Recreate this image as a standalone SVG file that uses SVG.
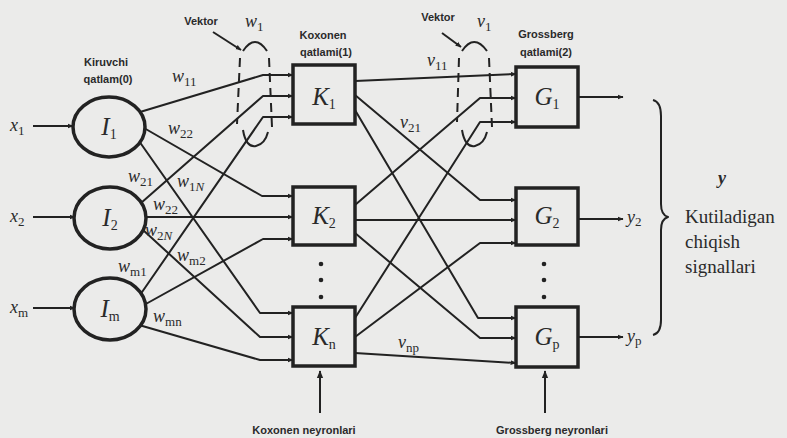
<svg xmlns="http://www.w3.org/2000/svg" width="787" height="438" viewBox="0 0 787 438">
<defs>
<marker id="ah" viewBox="0 0 10 10" refX="9" refY="5" markerWidth="6" markerHeight="6" orient="auto" markerUnits="userSpaceOnUse">
<path d="M0,1 L10,5 L0,9 z" fill="#222"/>
</marker>
<marker id="ahb" viewBox="0 0 10 10" refX="9" refY="5" markerWidth="8" markerHeight="8" orient="auto" markerUnits="userSpaceOnUse">
<path d="M0,1 L10,5 L0,9 z" fill="#222"/>
</marker>
</defs>
<style>
.bg{fill:#ebebea}
.c{fill:none;stroke:#222;stroke-width:2;stroke-linejoin:round}
.ca{fill:none;stroke:#222;stroke-width:2;stroke-linejoin:round;marker-end:url(#ah)}
.box{fill:#ebebea;stroke:#222;stroke-width:3.5}
.circ{fill:#ebebea;stroke:#222;stroke-width:3.5}
.dash{fill:none;stroke:#222;stroke-width:2;stroke-dasharray:9,6}
.arc{fill:none;stroke:#222;stroke-width:2}
.nm{font-family:"Liberation Serif",serif;font-style:italic;font-size:25px;fill:#2a2a2a;text-anchor:middle}
.nsub{font-size:14px;font-style:normal}
.lbl{font-family:"Liberation Serif",serif;font-style:italic;font-size:18px;fill:#2a2a2a}
.sub{font-size:13px;font-style:normal}
.sans{font-family:"Liberation Sans",sans-serif;font-weight:bold;font-size:11px;fill:#2a2a2a;text-anchor:middle}
.txt{font-family:"Liberation Serif",serif;font-size:19px;fill:#2a2a2a}
</style>
<rect class="bg" x="0" y="0" width="787" height="438"/>

<g id="connectors">
<path class="ca" d="M33,126 L73,126"/>
<path class="ca" d="M33,217 L75,217"/>
<path class="ca" d="M33,308 L75,308"/>
<path class="ca" d="M140,112 L263,75 L293,75"/>
<path class="ca" d="M141,203 L263,96 L293,96"/>
<path class="ca" d="M140,295 L263,117 L293,117"/>
<path class="ca" d="M144,128 L262,196 L293,196"/>
<path class="ca" d="M144,217 L293,217"/>
<path class="ca" d="M144,305 L263,239 L293,239"/>
<path class="ca" d="M139,141 L260,313 L293,313"/>
<path class="ca" d="M143,230 L260,337 L293,337"/>
<path class="ca" d="M139,325 L260,360 L293,360"/>
<path class="ca" d="M355,81 L516,74"/>
<path class="ca" d="M355,95 L480,200 L516,200"/>
<path class="ca" d="M355,110 L478,318 L516,318"/>
<path class="ca" d="M355,205 L480,98 L516,98"/>
<path class="ca" d="M355,220 L516,220"/>
<path class="ca" d="M355,233 L480,338 L516,338"/>
<path class="ca" d="M355,318 L480,122 L516,122"/>
<path class="ca" d="M355,337 L480,243 L516,243"/>
<path class="ca" d="M355,353 L516,363"/>
<path class="ca" d="M578,97 L623,97"/>
<path class="ca" d="M578,219 L623,219"/>
<path class="ca" d="M578,337 L623,337"/>
<path class="c" style="marker-end:url(#ahb)" d="M320,413 L320,371"/>
<path class="c" style="marker-end:url(#ahb)" d="M545,413 L545,371"/>
<path class="c" style="marker-end:url(#ah)" d="M213,32 L241,50"/>
<path class="c" style="marker-end:url(#ah)" d="M442,33 L461,47"/>
<path class="c" d="M653,100 Q661,102 661,116 L661,204 Q661,215 668,217 Q661,219 661,230 L661,320 Q661,333 653,335"/>
</g>

<g id="vector-w1">
<path class="arc" d="M243,51 Q255,33 267,51"/>
<path class="dash" d="M240,58 L237,124"/>
<path class="dash" d="M269,58 L272,127"/>
<path class="arc" d="M243,130 Q246,148 256,146 Q265,144 268,132"/>
</g>
<g id="vector-v1">
<path class="arc" d="M462,51 Q474,33 487,51"/>
<path class="dash" d="M459,58 L457,122"/>
<path class="dash" d="M489,58 L492,127"/>
<path class="arc" d="M462,130 Q465,148 475,146 Q484,144 487,132"/>
</g>

<g id="I1"><ellipse class="circ" cx="109" cy="127" rx="36" ry="30"/><text class="nm" x="109" y="135">I<tspan class="nsub" dy="4">1</tspan></text></g>
<g id="I2"><ellipse class="circ" cx="110" cy="218" rx="36" ry="31"/><text class="nm" x="110" y="226">I<tspan class="nsub" dy="4">2</tspan></text></g>
<g id="Im"><ellipse class="circ" cx="110" cy="309" rx="36" ry="31"/><text class="nm" x="110" y="317">I<tspan class="nsub" dy="4">m</tspan></text></g>

<g id="K1"><rect class="box" x="293" y="65" width="62" height="59"/><text class="nm" x="324" y="105">K<tspan class="nsub" dy="4">1</tspan></text></g>
<g id="K2"><rect class="box" x="293" y="187" width="62" height="58"/><text class="nm" x="324" y="224">K<tspan class="nsub" dy="4">2</tspan></text></g>
<g id="Kn"><rect class="box" x="293" y="307" width="62" height="59"/><text class="nm" x="324" y="345">K<tspan class="nsub" dy="4">n</tspan></text></g>

<g id="G1"><rect class="box" x="516" y="67" width="62" height="60"/><text class="nm" x="547" y="105">G<tspan class="nsub" dy="4">1</tspan></text></g>
<g id="G2"><rect class="box" x="516" y="188" width="62" height="57"/><text class="nm" x="547" y="224">G<tspan class="nsub" dy="4">2</tspan></text></g>
<g id="Gp"><rect class="box" x="516" y="307" width="62" height="60"/><text class="nm" x="547" y="345">G<tspan class="nsub" dy="4">p</tspan></text></g>

<g id="dots" fill="#222">
<circle cx="321" cy="264" r="2.3"/><circle cx="321" cy="280" r="2.3"/><circle cx="321" cy="297" r="2.3"/>
<circle cx="544" cy="264" r="2.3"/><circle cx="544" cy="280" r="2.3"/><circle cx="544" cy="297" r="2.3"/>
</g>

<g id="labels">
<text class="lbl" x="10" y="131">x<tspan class="sub" dy="4">1</tspan></text>
<text class="lbl" x="10" y="222">x<tspan class="sub" dy="4">2</tspan></text>
<text class="lbl" x="10" y="313">x<tspan class="sub" dy="4">m</tspan></text>

<text class="lbl" x="172" y="82">w<tspan class="sub" dy="4">11</tspan></text>
<text class="lbl" x="168" y="134">w<tspan class="sub" dy="4">22</tspan></text>
<text class="lbl" x="128" y="182">w<tspan class="sub" dy="4">21</tspan></text>
<text class="lbl" x="177" y="187">w<tspan class="sub" dy="4">1<tspan font-style="italic">N</tspan></tspan></text>
<text class="lbl" x="153" y="210">w<tspan class="sub" dy="4">22</tspan></text>
<text class="lbl" x="145" y="236">w<tspan class="sub" dy="4">2<tspan font-style="italic">N</tspan></tspan></text>
<text class="lbl" x="177" y="261">w<tspan class="sub" dy="4">m2</tspan></text>
<text class="lbl" x="118" y="272">w<tspan class="sub" dy="4">m1</tspan></text>
<text class="lbl" x="153" y="322">w<tspan class="sub" dy="4">mn</tspan></text>

<text class="lbl" x="427" y="66">v<tspan class="sub" dy="4">11</tspan></text>
<text class="lbl" x="400" y="128">v<tspan class="sub" dy="4">21</tspan></text>
<text class="lbl" x="398" y="348">v<tspan class="sub" dy="4">np</tspan></text>

<text class="lbl" x="245" y="27">w<tspan class="sub" dy="4">1</tspan></text>
<text class="lbl" x="477" y="27">v<tspan class="sub" dy="4">1</tspan></text>

<text class="lbl" x="627" y="223" font-size="15">y<tspan class="sub" dy="3">2</tspan></text>
<text class="lbl" x="627" y="342" font-size="15">y<tspan class="sub" dy="3">p</tspan></text>
<text class="lbl" x="718" y="184" font-weight="bold">y</text>

<text class="txt" x="685" y="223">Kutiladigan</text>
<text class="txt" x="685" y="248">chiqish</text>
<text class="txt" x="685" y="273">signallari</text>

<text class="sans" x="106" y="66">Kiruvchi</text>
<text class="sans" x="108" y="83">qatlam(0)</text>
<text class="sans" x="201" y="25">Vektor</text>
<text class="sans" x="323" y="39">Koxonen</text>
<text class="sans" x="326" y="56">qatlami(1)</text>
<text class="sans" x="438" y="21">Vektor</text>
<text class="sans" x="546" y="38">Grossberg</text>
<text class="sans" x="546" y="56">qatlami(2)</text>
<text class="sans" x="304" y="434">Koxonen neyronlari</text>
<text class="sans" x="552" y="434">Grossberg neyronlari</text>
</g>
</svg>
